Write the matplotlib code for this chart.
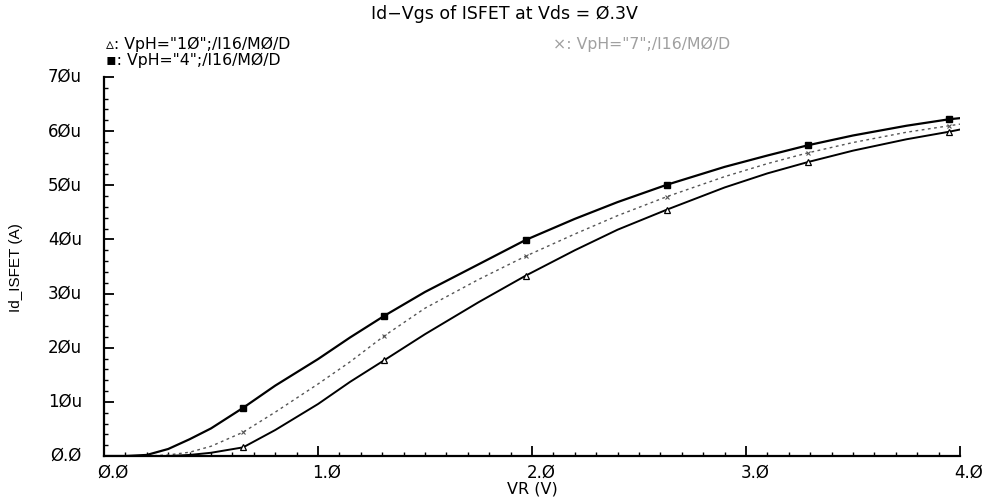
import matplotlib
matplotlib.use("Agg")
import matplotlib.pyplot as plt
import matplotlib.transforms as mtransforms
from matplotlib.ticker import FixedLocator, FixedFormatter, MultipleLocator

# ---- data ----
vr = [0.0, 0.1, 0.2, 0.3, 0.4, 0.5, 0.65, 0.8, 1.0, 1.15, 1.31, 1.5, 1.75,
      1.97, 2.2, 2.4, 2.63, 2.9, 3.1, 3.29, 3.5, 3.75, 3.95, 4.0]
id_ph4 = [0.0, 0.0, 0.2, 1.3, 3.1, 5.1, 8.9, 13.0, 17.9, 21.9, 25.9, 30.3, 35.4,
          39.9, 43.8, 46.9, 50.1, 53.4, 55.5, 57.4, 59.2, 61.0, 62.2, 62.4]
id_ph7 = [0.0, 0.0, 0.0, 0.2, 0.7, 1.8, 4.4, 8.1, 13.3, 17.4, 22.2, 27.3, 32.6,
          36.9, 41.0, 44.4, 47.9, 51.6, 54.0, 56.0, 57.9, 59.8, 61.0, 61.3]
id_ph10 = [0.0, 0.0, 0.0, 0.0, 0.2, 0.6, 1.6, 4.8, 9.6, 13.7, 17.7, 22.5, 28.4,
           33.3, 38.0, 41.8, 45.5, 49.6, 52.2, 54.3, 56.4, 58.5, 59.9, 60.3]
marker_idx = [6, 10, 13, 16, 19, 22]

y_ticks = [0, 10, 20, 30, 40, 50, 60, 70]
y_labels = ["Ø.Ø", "1Øu", "2Øu", "3Øu", "4Øu", "5Øu", "6Øu", "7Øu"]
x_ticks = [0.0, 1.0, 2.0, 3.0, 4.0]
x_labels = ["Ø.Ø", "1.Ø", "2.Ø", "3.Ø", "4.Ø"]

title = "Id\u2212Vgs of ISFET at Vds = Ø.3V"
leg10 = "\u25b5: VpH=\"1Ø\";/I16/MØ/D"
leg4 = "\u25aa: VpH=\"4\";/I16/MØ/D"
leg7 = "\u00d7: VpH=\"7\";/I16/MØ/D"

plt.rcParams['font.family'] = ['DejaVu Sans']

fig = plt.figure(figsize=(9.85, 5.02), dpi=100)
ax = fig.add_axes([0.1056, 0.0896, 0.869, 0.755])

ax.plot(vr, id_ph4, color='black', lw=1.6, marker='s', ms=4,
        mfc='black', markevery=marker_idx)
ax.plot(vr, id_ph7, color='#555555', lw=1.0, ls=(0, (2, 2.5)), marker='x',
        ms=3.5, mew=0.8, markevery=marker_idx)
ax.plot(vr, id_ph10, color='black', lw=1.4, marker='^', ms=4.5,
        mfc='white', mec='black', mew=0.9, markevery=marker_idx)

ax.set_xlim(0, 4.0)
ax.set_ylim(0, 70)
for s in ['top', 'right']:
    ax.spines[s].set_visible(False)
for s in ['left', 'bottom']:
    ax.spines[s].set_linewidth(1.6)

ax.yaxis.set_major_locator(FixedLocator(y_ticks))
ax.yaxis.set_major_formatter(FixedFormatter(y_labels))
ax.yaxis.set_minor_locator(MultipleLocator(2))
ax.xaxis.set_major_locator(FixedLocator(x_ticks))
ax.xaxis.set_major_formatter(FixedFormatter(x_labels))
ax.xaxis.set_minor_locator(MultipleLocator(0.1))

ax.tick_params(axis='both', which='major', direction='in', length=7,
               width=1.3, labelsize=12, colors='black')
ax.tick_params(axis='both', which='minor', direction='in', length=3, width=1)
ax.tick_params(axis='y', which='major', pad=16)
ax.tick_params(axis='x', which='major', pad=5)

# x labels sit a little right of their ticks, y labels a little above
xoff = mtransforms.ScaledTranslation(9 / 100, 0, fig.dpi_scale_trans)
for lbl in ax.get_xticklabels():
    lbl.set_transform(lbl.get_transform() + xoff)
yoff = mtransforms.ScaledTranslation(0, 3 / 100, fig.dpi_scale_trans)
for lbl in ax.get_yticklabels():
    lbl.set_transform(lbl.get_transform() + yoff)

ax.set_xlabel("VR (V)", fontsize=11.5, labelpad=0)
ax.set_ylabel("Id_ISFET (A)", fontsize=11, labelpad=18,
              family=['Liberation Sans', 'DejaVu Sans'])

fig.text(0.512, 0.972, title, ha='center', va='center', fontsize=12.5)
fig.text(0.108, 0.911, leg10, ha='left', va='center', fontsize=11.3)
fig.text(0.108, 0.880, leg4, ha='left', va='center', fontsize=11.3)
fig.text(0.561, 0.911, leg7, ha='left', va='center', fontsize=11.3,
         color='#a0a0a0')

fig.savefig("out.png", dpi=100)
